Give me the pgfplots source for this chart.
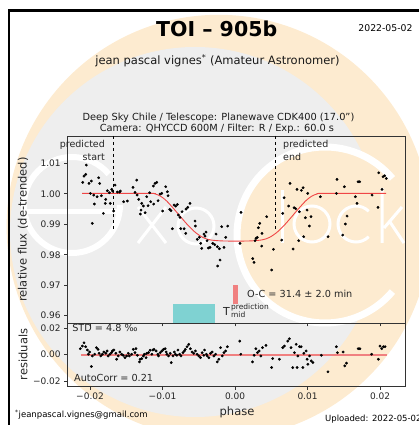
\documentclass[border=0pt]{standalone}
\usepackage{fontspec}
\setmainfont{DejaVu Sans}
\usepackage{pgfplots}
\pgfplotsset{compat=1.18}
\definecolor{wmorange}{RGB}{253,235,208}
\definecolor{wmgrey}{RGB}{238,238,238}
\definecolor{tealc}{RGB}{127,210,210}
\definecolor{lcoral}{RGB}{240,128,128}
\definecolor{mred}{RGB}{240,70,70}
\newcommand{\fs}[1]{\fontsize{#1}{#1}\selectfont}
\begin{document}
\begin{tikzpicture}
\useasboundingbox (0pt,0pt) rectangle (419pt,425pt);
\clip (0pt,0pt) rectangle (419pt,425pt);
% watermark (pixel coordinates, y down)
\begin{scope}[x=1pt,y=-1pt,shift={(0pt,425pt)}]
\fill[wmorange] (218.6,226.8) circle (212pt);
\fill[wmgrey] (195,232) circle (185pt);
\fill[wmorange] (325,235) circle (88pt);
\draw[white, line width=7pt] (325,235) ++(40:88pt) arc[start angle=40, delta angle=280, radius=88pt];
\draw[white, line width=6pt] (72,205) ++(0:48pt) arc[start angle=0, delta angle=-320, radius=48pt];
\draw[white, line width=5pt] (24,212) -- (120,212);
\draw[white, line width=3pt] (138,207) -- (166,243) (166,207) -- (138,243);
\draw[white, line width=3pt] (196,226) circle (18pt);
\draw[white, line width=3pt] (282,190) -- (282,243);
\draw[white, line width=3pt] (312,224) circle (18pt);
\draw[white, line width=3pt] (356,224) ++(45:18pt) arc[start angle=45, delta angle=270, radius=18pt];
\draw[white, line width=3pt] (382,188) -- (382,243) (384,228) -- (402,207) (390,222) -- (404,243);
\draw[black, line width=2.8pt] (9,445) -- (9,10.5) -- (445,10.5);
\end{scope}
% texts
\node[anchor=base, inner sep=0] at (216.7pt,388pt) {\fs{20.5}\bfseries TOI – 905b};
\node[anchor=base, inner sep=0] at (385.5pt,393.3pt) {\fs{9.3}2022-05-02};
\node[anchor=base, inner sep=0, text=black!90] at (217.5pt,360pt) {\fs{11.5}jean pascal vignes\textsuperscript{*} (Amateur Astronomer)};
\node[anchor=base, inner sep=0, text=black!90] at (218.5pt,304.3pt) {\fs{9.8}Deep Sky Chile / Telescope: Planewave CDK400 (17.0")};
\node[anchor=base, inner sep=0, text=black!90] at (217pt,293.3pt) {\fs{9.8}Camera: QHYCCD 600M / Filter: R / Exp.: 60.0 s};
\node[anchor=base west, inner sep=0] at (15pt,8pt) {\fs{8.5}\textsuperscript{*}jeanpascal.vignes@gmail.com};
\node[anchor=base west, inner sep=0] at (325pt,4pt) {\fs{8.5}Uploaded: 2022-05-02};

\pgfplotsset{myax/.style={
  anchor=south west, scale only axis, width=338pt,
  xmin=-0.02308, xmax=0.02354,
  xtick={-0.02,-0.01,0,0.01,0.02},
  scaled ticks=false,
  tick align=outside, xtick pos=bottom, ytick pos=left,
  major tick length=3.5pt,
  axis line style={black!80, line width=0.8pt},
  every tick/.style={black!80, line width=0.8pt},
  tick label style={font=\fs{9}, text=black!85},
  label style={font=\fs{11.5}, text=black!85},
  clip=false,
}}

\begin{axis}[myax, at={(67.7pt,102pt)}, height=187pt,
  ymin=0.9576, ymax=1.0190, xticklabels={},
  ytick={0.96,0.97,0.98,0.99,1.00,1.01},
  yticklabels={0.96,0.97,0.98,0.99,1.00,1.01},
  ylabel={relative flux (de-trended)},
  ylabel style={at={(axis description cs:-0.132,0.5)}, anchor=center}]
\addplot[fill=tealc, draw=none] coordinates {(-0.00855,0.9576) (-0.00276,0.9576) (-0.00276,0.9638) (-0.00855,0.9638)};
\addplot[fill=lcoral, draw=none] coordinates {(-0.00028,0.9638) (0.00041,0.9638) (0.00041,0.9701) (-0.00028,0.9701)};
\addplot[black, dashed, line width=0.7pt] coordinates {(-0.0168,1.0190) (-0.0168,0.9881)};
\addplot[black, dashed, line width=0.7pt] coordinates {(0.00556,1.0190) (0.00556,0.9881)};
\addplot[mred, line width=0.9pt, smooth] table {
x y
-0.02110 1.00015
-0.01185 1.00015
-0.01105 1.00000
-0.01025 0.99920
-0.00945 0.99770
-0.00845 0.99510
-0.00745 0.99230
-0.00645 0.98960
-0.00545 0.98730
-0.00445 0.98570
-0.00345 0.98490
-0.00185 0.98455
0.00015 0.98450
0.00215 0.98455
0.00375 0.98490
0.00475 0.98570
0.00575 0.98730
0.00675 0.98960
0.00775 0.99230
0.00875 0.99510
0.00975 0.99770
0.01055 0.99920
0.01135 1.00000
0.01215 1.00015
0.02083 1.00015
};
\addplot[only marks, mark=*, mark size=1.2pt, black] table {
x y
-0.02051 1.00945
-0.02083 1.00584
-0.02060 1.00639
-0.02101 1.00376
-0.02014 1.00343
-0.01982 1.00420
-0.01880 1.00529
-0.01867 1.00343
-0.01995 1.00015
-0.01949 0.99961
-0.01903 0.99906
-0.01844 0.99939
-0.01940 0.99665
-0.01968 0.99031
-0.01816 0.99359
-0.01784 0.99818
-0.01789 0.99687
-0.01761 1.00103
-0.01733 1.00037
-0.01720 0.99687
-0.01701 1.00147
-0.01687 1.00092
-0.01674 0.99436
-0.01655 1.00289
-0.01623 1.00059
-0.01591 1.00059
-0.01582 1.00092
-0.01536 0.99742
-0.01485 0.99764
-0.01407 1.00212
-0.01356 1.00453
-0.01379 1.00048
-0.01350 0.99961
-0.01329 0.99818
-0.01287 0.99687
-0.01297 0.99469
-0.01306 0.99337
-0.01264 0.99600
-0.01241 0.99381
-0.01218 0.99906
-0.01200 0.99611
-0.01177 1.00037
-0.01163 0.99742
-0.01126 1.00256
-0.01103 1.00343
-0.01080 1.00376
-0.01122 0.99665
-0.01062 0.99775
-0.01034 0.99993
-0.01011 1.00015
-0.00998 0.99436
-0.00956 1.00234
-0.00933 1.00070
-0.00924 0.99939
-0.00901 0.99490
-0.00883 0.99447
-0.00864 0.98856
-0.00841 0.99633
-0.00818 0.99600
-0.00795 0.99654
-0.00782 0.99304
-0.00759 0.99228
-0.00749 0.98856
-0.00731 0.99414
-0.00676 0.99501
-0.00653 0.99556
-0.00621 0.99687
-0.00703 0.98856
-0.00680 0.98703
-0.00552 0.99108
-0.00547 0.98944
-0.00520 0.98506
-0.00492 0.98572
-0.00474 0.98375
-0.00460 0.98211
-0.00428 0.98681
-0.00400 0.98747
-0.00414 0.98615
-0.00386 0.98462
-0.00368 0.98222
-0.00345 0.98244
-0.00308 0.98375
-0.00280 0.98331
-0.00262 0.98681
-0.00244 0.98266
-0.00216 0.98200
-0.00184 0.98922
-0.00152 0.98244
-0.00129 0.98572
-0.00101 0.98944
-0.00239 0.97631
-0.00207 0.97828
0.00069 0.98375
0.00083 0.99392
0.00244 0.97872
0.00262 0.97752
0.00276 0.98462
0.00308 0.98572
0.00322 0.98889
0.00340 0.99031
0.00368 0.98287
0.00290 0.98539
0.00372 0.98703
0.00437 0.99250
0.00529 0.98178
0.00644 0.98484
0.00506 0.97500
0.00676 0.99873
0.00657 0.99359
0.00759 1.00343
0.00740 0.99600
0.00800 0.98189
0.00814 0.99545
0.00837 0.99512
0.00855 1.00147
0.00915 1.00114
0.00938 1.00201
0.00887 0.99414
0.01002 1.00015
0.00993 0.99469
0.00970 0.99217
0.01048 0.99250
0.01025 0.98944
0.00947 0.98594
0.00878 0.98462
0.01177 0.99906
0.01283 0.98594
0.01407 1.00475
0.01398 1.00015
0.01508 1.00234
0.01545 0.99272
0.01522 0.99009
0.01485 0.98648
0.01660 0.99906
0.01683 0.99687
0.01697 1.00398
0.01720 1.00398
0.01890 0.99961
0.01972 0.99556
0.01982 1.00693
0.02028 1.00147
0.02041 1.00562
0.02064 1.00595
0.02087 1.00507
};
\node[anchor=base east, inner sep=0, text=black!85] at (axis cs:-0.01793,1.01525) {\fs{9.5}predicted};
\node[anchor=base east, inner sep=0, text=black!85] at (axis cs:-0.01793,1.01108) {\fs{9.5}start};
\node[anchor=base west, inner sep=0, text=black!85] at (axis cs:0.00662,1.01525) {\fs{9.5}predicted};
\node[anchor=base west, inner sep=0, text=black!85] at (axis cs:0.00662,1.01108) {\fs{9.5}end};
\node[anchor=base west, inner sep=0, text=black!85] at (axis cs:0.001655,0.96604) {\fs{9.7}O-C = 31.4 ± 2.0 min};
\node[anchor=base west, inner sep=0, text=black!85] (T) at (axis cs:-0.001655,0.96013) {\fs{11}T};
\node[anchor=base west, inner sep=0, text=black!85] at ([xshift=0.8pt,yshift=6pt]T.base east) {\fs{7.5}prediction};
\node[anchor=base west, inner sep=0, text=black!85] at ([xshift=0.8pt,yshift=-2.5pt]T.base east) {\fs{7.5}mid};
\end{axis}

\begin{axis}[myax, at={(67.7pt,39pt)}, height=63pt,
  ymin=-0.0238, ymax=0.0240,
  xticklabels={−0.02,−0.01,0.00,0.01,0.02},
  ytick={-0.02,0,0.02}, yticklabels={−0.02,0.00,0.02},
  xlabel={phase}, xlabel style={at={(axis description cs:0.501,-0.413)}, anchor=center},
  ylabel={residuals}, ylabel style={at={(axis description cs:-0.132,0.5)}, anchor=center}]
\addplot[lcoral, line width=1.8pt] coordinates {(-0.0213,0) (0.0209,0)};
\addplot[only marks, mark=*, mark size=1.2pt, black] table {
x y
-0.02134 0.0045
-0.02106 0.0065
-0.02083 0.0090
-0.02060 0.0060
-0.02037 0.0035
-0.02023 0.0003
-0.02005 0.0020
-0.01981 -0.0090
-0.01968 -0.0010
-0.01935 0.0003
-0.01912 0.0053
-0.01889 0.0040
-0.01875 0.0010
-0.01852 -0.0010
-0.01829 0.0003
-0.01810 0.0020
-0.01782 0.0010
-0.01764 0.0028
-0.01750 -0.0010
-0.01727 0.0003
-0.01704 0.0015
-0.01690 0.0028
-0.01671 0.0035
-0.01644 0.0010
-0.01634 -0.0035
-0.01611 -0.0010
-0.01588 0.0020
-0.01565 0.0003
-0.01542 -0.0005
-0.01519 -0.0023
-0.01495 -0.0010
-0.01472 0.0010
-0.01458 -0.0010
-0.01426 0.0003
-0.01403 0.0040
-0.01380 0.0015
-0.01366 0.0045
-0.01347 -0.0005
-0.01319 -0.0055
-0.01310 -0.0035
-0.01287 -0.0030
-0.01264 -0.0010
-0.01250 0.0003
-0.01227 -0.0023
-0.01218 0.0010
-0.01194 0.0015
-0.01171 0.0033
-0.01148 0.0003
-0.01134 0.0035
-0.01116 0.0040
-0.01088 0.0028
-0.01065 0.0003
-0.01056 -0.0010
-0.01032 0.0015
-0.01009 0.0028
-0.00986 0.0040
-0.00963 0.0045
-0.00949 0.0020
-0.00940 0.0003
-0.00917 -0.0010
-0.00894 0.0010
-0.00880 -0.0060
-0.00856 -0.0010
-0.00838 0.0020
-0.00824 0.0003
-0.00801 -0.0005
-0.00787 0.0035
-0.00764 0.0003
-0.00745 -0.0010
-0.00718 0.0015
-0.00699 0.0028
-0.00685 0.0040
-0.00662 0.0060
-0.00639 0.0078
-0.00616 0.0045
-0.00593 0.0020
-0.00569 0.0010
-0.00546 0.0028
-0.00523 0.0003
-0.00500 -0.0010
-0.00477 -0.0023
-0.00454 0.0015
-0.00431 -0.0005
-0.00421 0.0035
-0.00394 0.0003
-0.00384 -0.0010
-0.00361 -0.0023
-0.00338 0.0010
-0.00315 0.0020
-0.00292 -0.0010
-0.00269 0.0003
-0.00245 -0.0055
-0.00222 -0.0035
-0.00199 0.0053
-0.00176 -0.0010
-0.00153 0.0015
-0.00130 0.0028
-0.00106 0.0060
0.00065 0.0103
0.00079 0.0003
0.00241 -0.0055
0.00264 -0.0005
0.00287 0.0045
0.00310 0.0015
0.00333 0.0028
0.00356 -0.0010
0.00380 0.0053
0.00426 0.0070
0.00505 -0.0098
0.00519 -0.0030
0.00611 -0.0035
0.00657 0.0053
0.00681 0.0065
0.00727 0.0103
0.00750 0.0120
0.00773 0.0053
0.00796 -0.0098
0.00819 0.0015
0.00843 0.0078
0.00856 -0.0098
0.00866 -0.0010
0.00889 0.0060
0.00912 0.0060
0.00935 -0.0098
0.00949 0.0010
0.00981 0.0028
0.00995 -0.0035
0.01005 -0.0073
0.01028 -0.0010
0.01051 -0.0048
0.01074 -0.0060
0.01190 -0.0005
0.01282 -0.0130
0.01398 0.0060
0.01412 0.0015
0.01491 0.0020
0.01514 -0.0085
0.01537 -0.0065
0.01699 0.0045
0.01722 0.0045
0.01884 0.0003
0.01977 -0.0035
0.02000 0.0065
0.02023 0.0045
0.02046 0.0060
0.02069 0.0060
};
\node[anchor=base west, inner sep=0, text=black!85] at (axis cs:-0.02248,0.01757) {\fs{9.7}STD = 4.8 ‰};
\node[anchor=base west, inner sep=0, text=black!85] at (axis cs:-0.02221,-0.0205) {\fs{9.7}AutoCorr = 0.21};
\end{axis}
\end{tikzpicture}
\end{document}
